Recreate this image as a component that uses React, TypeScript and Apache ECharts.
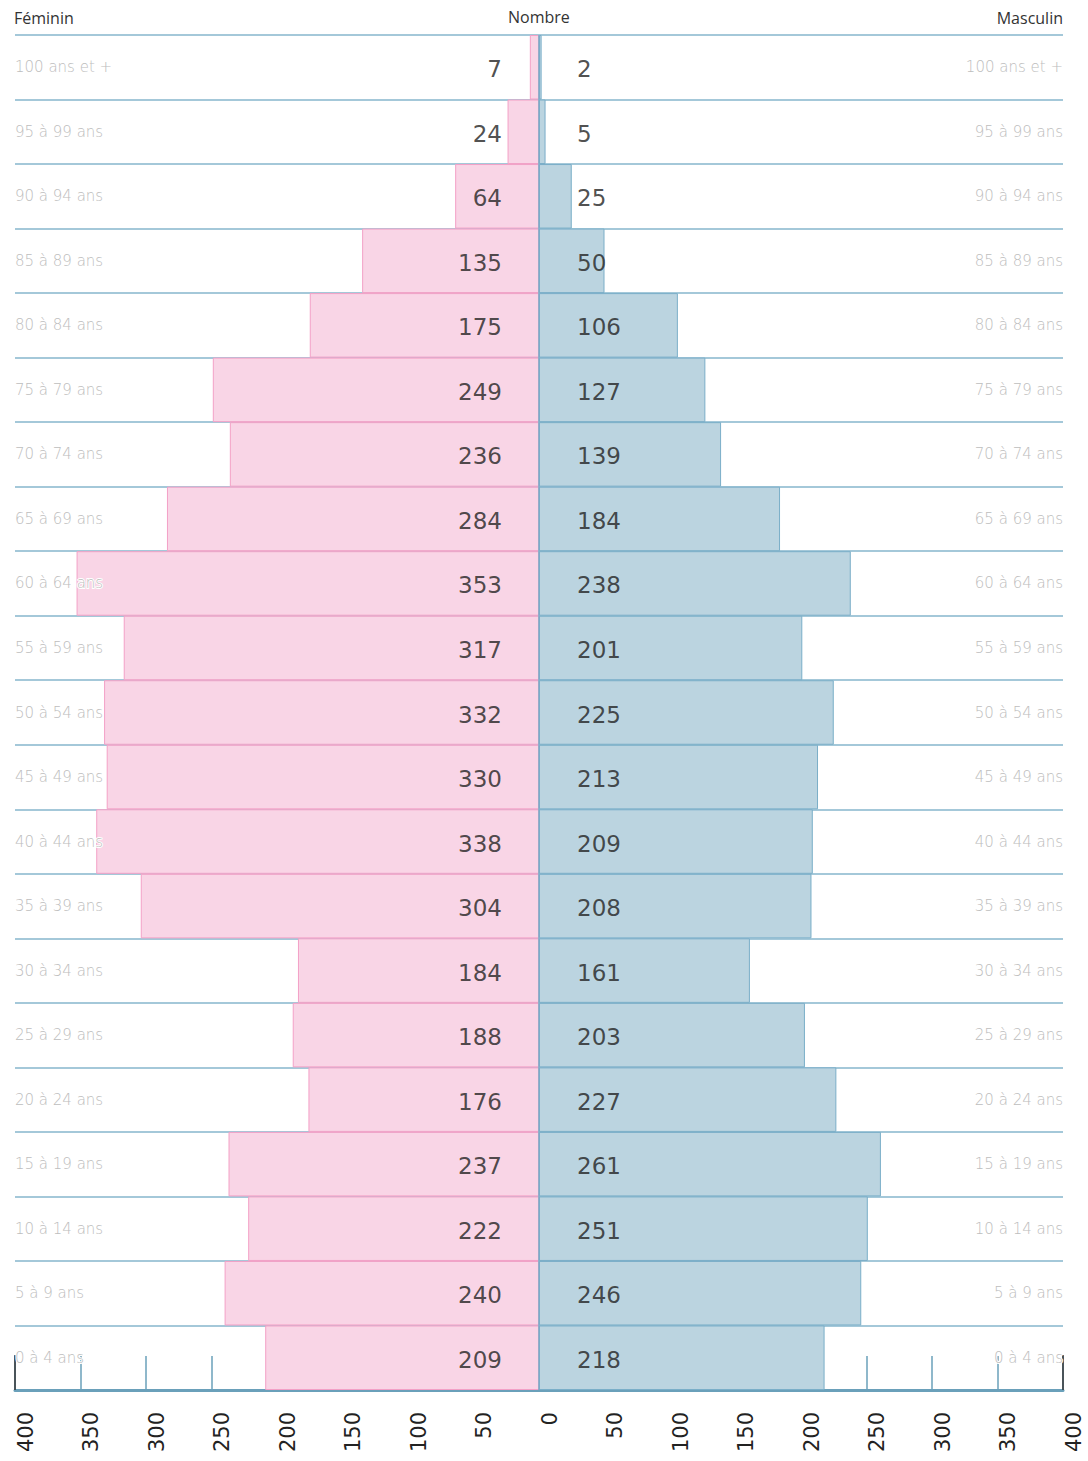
import React, { useEffect, useRef } from "react";
import * as echarts from "echarts";

// Categories from bottom (youngest) to top (oldest)
const ageGroups = [
  "0 à 4 ans", "5 à 9 ans", "10 à 14 ans", "15 à 19 ans", "20 à 24 ans",
  "25 à 29 ans", "30 à 34 ans", "35 à 39 ans", "40 à 44 ans", "45 à 49 ans",
  "50 à 54 ans", "55 à 59 ans", "60 à 64 ans", "65 à 69 ans", "70 à 74 ans",
  "75 à 79 ans", "80 à 84 ans", "85 à 89 ans", "90 à 94 ans", "95 à 99 ans",
  "100 ans et +",
];

const femaleValues = [209, 240, 222, 237, 176, 188, 184, 304, 338, 330, 332, 317, 353, 284, 236, 249, 175, 135, 64, 24, 7];
const maleValues = [218, 246, 251, 261, 227, 203, 161, 208, 209, 213, 225, 201, 238, 184, 139, 127, 106, 50, 25, 5, 2];

const axisMin = -400;
const axisMax = 400;
const axisStep = 50;

const headerLeft = "Féminin";
const headerCenter = "Nombre";
const headerRight = "Masculin";

export default function App() {
  const ref = useRef<HTMLDivElement>(null);

  useEffect(() => {
    document.body.style.margin = "0";
    if (!ref.current) return;
    const chart = echarts.init(ref.current, undefined, { renderer: "svg" });

    const ageLabelStyle = {
      show: true,
      inside: true,
      margin: 0,
      color: "#bdbdbd",
      fontFamily: "DejaVu Sans",
      fontWeight: 200,
      fontSize: 15,
      textBorderColor: "#ffffff",
      textBorderWidth: 2,
      interval: 0,
    };

    const option: any = {
      animation: false,
      backgroundColor: "#ffffff",
      grid: { left: 15, right: 25, top: 35, bottom: 71, containLabel: false },
      graphic: [
        { type: "text", left: 14, top: 10, style: { text: headerLeft, font: '16px "Open Sans"', fill: "#333" } },
        { type: "text", left: 508, top: 9, style: { text: headerCenter, font: '16px "Open Sans"', fill: "#333" } },
        { type: "text", right: 25, top: 10, style: { text: headerRight, font: '16px "Open Sans"', fill: "#333" } },
      ],
      xAxis: [
        {
          type: "value",
          position: "bottom",
          min: axisMin,
          max: axisMax,
          interval: axisStep,
          axisLine: { show: true, lineStyle: { color: "#6aa0ba", width: 3 } },
          axisTick: { show: true, inside: true, length: 34, lineStyle: { color: "#6aa0ba", width: 1.5 } },
          splitLine: { show: false },
          axisLabel: {
            show: true,
            rotate: 90,
            margin: 22,
            verticalAlign: "top",
            fontFamily: "DejaVu Sans",
            fontSize: 21,
            color: "#222",
            hideOverlap: false,
            showMinLabel: true,
            showMaxLabel: true,
            formatter: (v: number) => String(Math.abs(v)),
          },
        },
        {
          type: "value",
          position: "bottom",
          min: axisMin,
          max: axisMax,
          interval: axisMax,
          axisLine: { show: false },
          axisTick: { show: true, inside: true, length: 35, lineStyle: { color: "#333", width: 1.5 } },
          splitLine: { show: false },
          axisLabel: { show: false },
        },
      ],
      yAxis: [
        {
          type: "category",
          position: "left",
          data: ageGroups,
          axisLine: { show: false },
          axisTick: { show: false },
          axisLabel: { show: false },
          splitLine: { show: true, lineStyle: { color: "#86b6cc", width: 1.5 } },
        },
        {
          type: "category",
          position: "left",
          data: ageGroups,
          z: 10,
          axisLine: { show: false },
          axisTick: { show: false },
          splitLine: { show: false },
          axisLabel: { ...ageLabelStyle },
        },
        {
          type: "category",
          position: "right",
          data: ageGroups,
          z: 10,
          axisLine: { show: false },
          axisTick: { show: false },
          splitLine: { show: false },
          axisLabel: { ...ageLabelStyle },
        },
      ],
      series: [
        {
          name: headerLeft,
          type: "bar",
          xAxisIndex: 0,
          yAxisIndex: 0,
          z: 2,
          data: femaleValues.map((v) => -v),
          barGap: "-100%",
          barCategoryGap: 0,
          itemStyle: { color: "#f9d5e6", borderColor: "#f3a0c6", borderWidth: 1 },
        },
        {
          name: headerRight,
          type: "bar",
          xAxisIndex: 0,
          yAxisIndex: 0,
          z: 3,
          data: maleValues,
          barGap: "-100%",
          barCategoryGap: 0,
          itemStyle: { color: "#bbd4e0", borderColor: "#7aaec8", borderWidth: 1 },
          markLine: {
            silent: true,
            symbol: "none",
            label: { show: false },
            lineStyle: { color: "#7aaec8", width: 1.5, type: "solid" },
            data: [{ xAxis: 0 }],
          },
        },
        {
          type: "scatter",
          xAxisIndex: 0,
          yAxisIndex: 0,
          symbolSize: 0,
          silent: true,
          z: 5,
          data: femaleValues.map((v, i) => [0, i, v]),
          label: {
            show: true,
            position: "left",
            distance: 37,
            offset: [0, 2],
            formatter: (p: any) => String(p.value[2]),
            fontFamily: "DejaVu Sans",
            fontSize: 23,
            color: "#222",
          },
        },
        {
          type: "scatter",
          xAxisIndex: 0,
          yAxisIndex: 0,
          symbolSize: 0,
          silent: true,
          z: 5,
          data: maleValues.map((v, i) => [0, i, v]),
          label: {
            show: true,
            position: "right",
            distance: 38,
            offset: [0, 2],
            formatter: (p: any) => String(p.value[2]),
            fontFamily: "DejaVu Sans",
            fontSize: 23,
            color: "#222",
          },
        },
      ],
    };

    chart.setOption(option);
    return () => chart.dispose();
  }, []);

  return <div ref={ref} style={{ width: 1088, height: 1461 }} />;
}
